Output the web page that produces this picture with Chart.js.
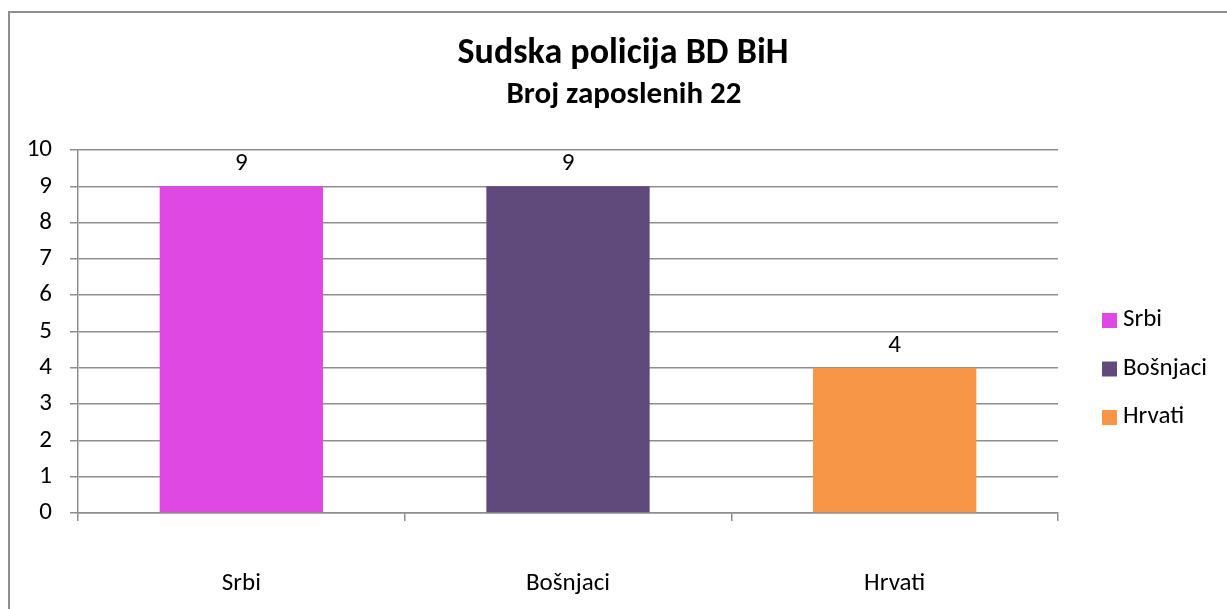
<!DOCTYPE html>
<html>
<head>
<meta charset="utf-8">
<script src="https://cdn.jsdelivr.net/npm/chart.js@4"></script>
<style>
  html, body { margin: 0; padding: 0; background: #fff; }
  #wrap { position: relative; width: 1227px; height: 609px; overflow: hidden; }
  #frame { position: absolute; left: 8px; top: 11px; width: 1240px; height: 640px; border: 2px solid #8e8e8e; box-sizing: border-box; }
  canvas { position: absolute; left: 0; top: 0; }
</style>
</head>
<body>
<div id="wrap">
  <div id="frame"></div>
  <canvas id="c" width="1227" height="609"></canvas>
</div>
<script>
const categories = ["Srbi", "Bošnjaci", "Hrvati"];
const values = [9, 9, 4];
const colors = ["#E048E3", "#604A7B", "#F79646"];
const yTicks = [0, 1, 2, 3, 4, 5, 6, 7, 8, 9, 10];
const titleText = "Sudska policija BD BiH";
const subtitleText = "Broj zaposlenih 22";

const FONT = "Carlito, 'Open Sans', sans-serif";

const titles = {
  id: 'titles',
  afterDraw(chart) {
    const ctx = chart.ctx;
    ctx.save();
    ctx.fillStyle = '#000';
    ctx.textAlign = 'center';
    ctx.textBaseline = 'alphabetic';
    ctx.font = "bold 36px " + FONT;
    ctx.fillText(titleText, 623, 63);
    ctx.font = "bold 31px " + FONT;
    ctx.fillText(subtitleText, 624, 103);
    ctx.restore();
  }
};

const dataLabels = {
  id: 'dataLabels',
  afterDatasetsDraw(chart) {
    const ctx = chart.ctx;
    const meta = chart.getDatasetMeta(0);
    ctx.save();
    ctx.fillStyle = '#000';
    ctx.font = "25px " + FONT;
    ctx.textAlign = 'center';
    ctx.textBaseline = 'alphabetic';
    meta.data.forEach((bar, i) => {
      ctx.fillText(String(values[i]), bar.x, bar.y - 16);
    });
    ctx.restore();
  }
};

const sideLegend = {
  id: 'sideLegend',
  afterDraw(chart) {
    const ctx = chart.ctx;
    ctx.save();
    ctx.font = "25px " + FONT;
    ctx.textBaseline = 'alphabetic';
    ctx.textAlign = 'left';
    const x0 = 1102, base0 = 326, step = 48.5;
    categories.forEach((c, i) => {
      const b = base0 + i * step;
      ctx.fillStyle = colors[i];
      ctx.fillRect(x0, b - 13, 15, 15);
      ctx.fillStyle = '#000';
      ctx.fillText(c, x0 + 21, b);
    });
    ctx.restore();
  }
};

new Chart(document.getElementById('c'), {
  type: 'bar',
  data: {
    labels: categories,
    datasets: [{
      data: values,
      backgroundColor: colors,
      borderWidth: 0,
      categoryPercentage: 0.5,
      barPercentage: 1.0
    }]
  },
  options: {
    responsive: false,
    animation: false,
    layout: { padding: { top: 150, right: 169, bottom: 10, left: 0 } },
    plugins: {
      legend: { display: false },
      tooltip: { enabled: false },
      title: { display: false },
      subtitle: { display: false }
    },
    scales: {
      x: {
        afterFit(scale) { scale.height = 86; },
        grid: {
          display: true,
          drawOnChartArea: false,
          drawTicks: true,
          tickLength: 8,
          color: '#8e8e8e',
          lineWidth: 1.5
        },
        border: { display: true, color: '#8e8e8e', width: 1.5 },
        ticks: {
          color: '#000',
          font: { family: FONT, size: 25, lineHeight: 1.2 },
          padding: 48,
          maxRotation: 0,
          minRotation: 0,
          autoSkip: false
        }
      },
      y: {
        min: 0,
        max: 10,
        afterFit(scale) { scale.width = 78; },
        afterBuildTicks(scale) { scale.ticks = yTicks.map(v => ({ value: v })); },
        grid: {
          color: '#8e8e8e',
          lineWidth: 1.5,
          drawTicks: true,
          tickLength: 8
        },
        border: { display: true, color: '#8e8e8e', width: 1.5 },
        ticks: {
          color: '#000',
          font: { family: FONT, size: 25 },
          padding: 18,
          autoSkip: false
        }
      }
    }
  },
  plugins: [dataLabels, sideLegend, titles]
});
</script>
</body>
</html>
